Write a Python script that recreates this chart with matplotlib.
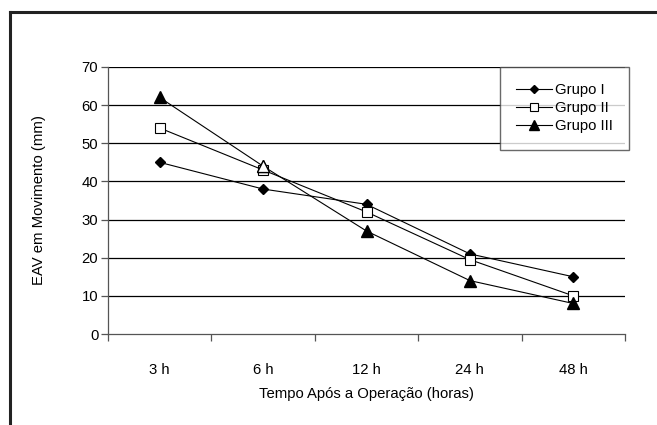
import matplotlib.pyplot as plt
from matplotlib.lines import Line2D

plt.rcParams['font.family'] = ['Liberation Sans', 'DejaVu Sans']

# EAV scores per time point
tempos = ["3 h", "6 h", "12 h", "24 h", "48 h"]
grupo_1 = [45, 38, 34, 21, 15]
grupo_2 = [54, 43, 32, 19.5, 10]
grupo_3 = [62, 44, 27, 14, 8]
y_ticks = [0, 10, 20, 30, 40, 50, 60, 70]

fs = 10.7

fig = plt.figure(figsize=(6.57, 4.25), dpi=100)
ax = fig.add_axes([0.1644, 0.2141, 0.7869, 0.6283])

x = list(range(len(tempos)))

# horizontal gridlines first, behind the series
for v in y_ticks[1:]:
    ax.axhline(v, color="black", lw=0.9, zorder=1)

line_kw = dict(color="black", lw=0.8, zorder=3)
ax.plot(x, grupo_1, marker="D", ms=5.6, mfc="black", mec="black", label="Grupo I", **line_kw)
ax.plot(x, grupo_2, marker="s", ms=7.2, mfc="white", mec="black", mew=0.8, label="Grupo II", **line_kw)
ax.plot(x, grupo_3, marker="^", ms=8.2, mfc="black", mec="black", label="Grupo III", **line_kw)
# the 6 h triangle shows up hollow
ax.plot(x[1], grupo_3[1], marker="^", ms=8.2, mfc="white", mec="black", mew=0.9, ls="none", zorder=4)

ax.set_xlim(-0.5, len(tempos) - 0.5)
ax.set_ylim(0, 70)
ax.set_yticks(y_ticks)
ax.set_xticks(x)
ax.set_xticklabels(tempos)
ax.set_xticks([i - 0.5 for i in range(len(tempos) + 1)], minor=True)
ax.tick_params(axis="x", which="major", length=0, pad=21, labelsize=fs)
ax.tick_params(axis="x", which="minor", length=5, color="#555555", width=0.9, direction="out")
ax.tick_params(axis="y", length=5, color="#555555", width=0.9, direction="out", labelsize=fs, pad=2)

for s in ["top", "right"]:
    ax.spines[s].set_visible(False)
for s in ["left", "bottom"]:
    ax.spines[s].set_color("#555555")
    ax.spines[s].set_linewidth(0.9)

ax.set_xlabel("Tempo Após a Operação (horas)", fontsize=fs, labelpad=7)
ax.set_ylabel("EAV em Movimento (mm)", fontsize=fs, labelpad=26)

leg = ax.legend(loc="upper right", bbox_to_anchor=(629 / 657, 1 - 67 / 425),
                bbox_transform=fig.transFigure, frameon=True, fancybox=False,
                fontsize=fs, handlelength=2.4, handletextpad=0.2, labelspacing=0.27,
                borderpad=1.1, borderaxespad=0, markerscale=0.8)
leg.get_frame().set_edgecolor("#444444")
leg.get_frame().set_linewidth(1.0)

# outer frame: only the left and top edges fall inside the image
fig.add_artist(Line2D([10 / 657, 10 / 657], [0, 1 - 12 / 425], color="#222222", lw=2.2,
                      transform=fig.transFigure, solid_capstyle="projecting"))
fig.add_artist(Line2D([10 / 657, 1], [1 - 12 / 425, 1 - 12 / 425], color="#222222", lw=2.2,
                      transform=fig.transFigure, solid_capstyle="projecting"))

fig.savefig("out.png", dpi=100)
